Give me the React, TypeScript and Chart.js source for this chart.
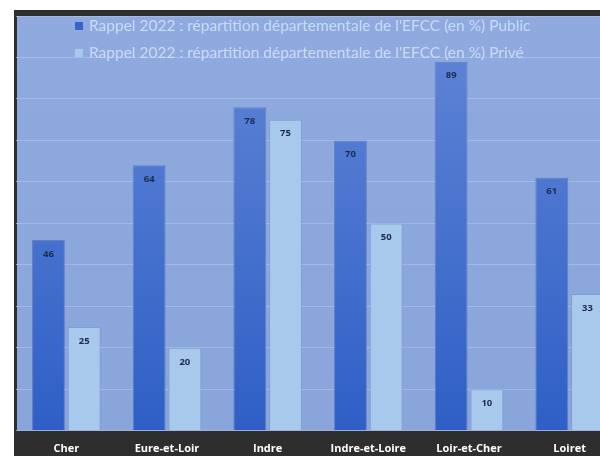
import React, { useEffect, useRef } from "react";
import { Chart, registerables } from "chart.js";

Chart.register(...registerables);

const categories = ["Cher", "Eure-et-Loir", "Indre", "Indre-et-Loire", "Loir-et-Cher", "Loiret"];
const publicValues = [46, 64, 78, 70, 89, 61];
const priveValues = [25, 20, 75, 50, 10, 33];
const seriesLabels = [
  "Rappel 2022 : répartition départementale de l'EFCC (en %) Public",
  "Rappel 2022 : répartition départementale de l'EFCC (en %) Privé",
];
const legendColors = ["#3a64c9", "#a9c9ec"];

const FRAME = "#2e2e2e";

const bgPlugin = {
  id: "plotBg",
  beforeDraw(chart: any) {
    const { ctx, chartArea, width, height } = chart;
    ctx.save();
    ctx.fillStyle = FRAME;
    ctx.fillRect(0, 0, width, height);
    const g = ctx.createLinearGradient(0, chartArea.top, 0, chartArea.bottom);
    g.addColorStop(0, "#8eaadf");
    g.addColorStop(1, "#8aa5d9");
    ctx.fillStyle = g;
    ctx.fillRect(3, chartArea.top, width - 3, chartArea.bottom - chartArea.top);
    ctx.restore();
  },
};

const labelPlugin = {
  id: "valueLabels",
  afterDatasetsDraw(chart: any) {
    const { ctx } = chart;
    ctx.save();
    ctx.font = "bold 9.5px 'Open Sans'";
    ctx.fillStyle = "#1c2b4f";
    ctx.textAlign = "center";
    ctx.textBaseline = "middle";
    chart.data.datasets.forEach((ds: any, di: number) => {
      const meta = chart.getDatasetMeta(di);
      meta.data.forEach((el: any, i: number) => {
        ctx.fillText(String(ds.data[i]), el.x, el.y + 14);
      });
    });
    ctx.restore();
  },
};

const legendPlugin = {
  id: "insideLegend",
  afterDraw(chart: any) {
    const { ctx } = chart;
    ctx.save();
    ctx.font = "15.5px Lato";
    ctx.textBaseline = "middle";
    chart.data.datasets.forEach((ds: any, di: number) => {
      const y = 16 + di * 27;
      ctx.fillStyle = legendColors[di];
      ctx.fillRect(61, y - 4, 8, 8);
      ctx.fillStyle = "rgba(212,225,248,0.88)";
      ctx.fillText(ds.label, 75, y);
    });
    ctx.restore();
  },
};

export default function App() {
  const ref = useRef<HTMLCanvasElement | null>(null);
  useEffect(() => {
    if (!ref.current) return;
    const chart = new Chart(ref.current, {
      type: "bar",
      data: {
        labels: categories,
        datasets: [
          {
            label: seriesLabels[0],
            data: publicValues,
            backgroundColor: (c: any) => {
              const ca = c.chart.chartArea;
              if (!ca) return "#3a64c9";
              const g = c.chart.ctx.createLinearGradient(0, ca.top, 0, ca.bottom);
              g.addColorStop(0, "#6186d6");
              g.addColorStop(1, "#2f5fc6");
              return g;
            },
            borderColor: "rgba(60,90,170,0.5)",
            borderWidth: 1,
            barPercentage: 0.92,
            categoryPercentage: 0.71,
          },
          {
            label: seriesLabels[1],
            data: priveValues,
            backgroundColor: "#a9c9ec",
            borderColor: "rgba(120,150,200,0.5)",
            borderWidth: 1,
            barPercentage: 0.92,
            categoryPercentage: 0.71,
          },
        ],
      },
      options: {
        responsive: false,
        animation: false,
        maintainAspectRatio: false,
        layout: { padding: { left: 2, top: 6, right: 4, bottom: 0 } },
        plugins: { legend: { display: false }, tooltip: { enabled: false } },
        scales: {
          x: {
            grid: { display: false, drawTicks: false },
            border: { display: false },
            ticks: { color: "#ffffff", font: { family: "'Open Sans'", weight: "bold", size: 11 }, padding: 11 },
          },
          y: {
            min: 0,
            max: 100,
            ticks: { display: false, stepSize: 10 },
            grid: { color: "rgba(170,193,235,0.7)", lineWidth: 1, drawTicks: false },
            border: { display: false },
          },
        },
      },
      plugins: [bgPlugin, labelPlugin, legendPlugin],
    });
    return () => chart.destroy();
  }, []);
  return (
    <div style={{ position: "fixed", left: 0, top: 0, width: 600, height: 456, overflow: "hidden", background: "#ffffff" }}>
      <canvas ref={ref} width={610} height={456} style={{ position: "absolute", left: 14, top: 10, width: 610, height: 456 }} />
    </div>
  );
}
